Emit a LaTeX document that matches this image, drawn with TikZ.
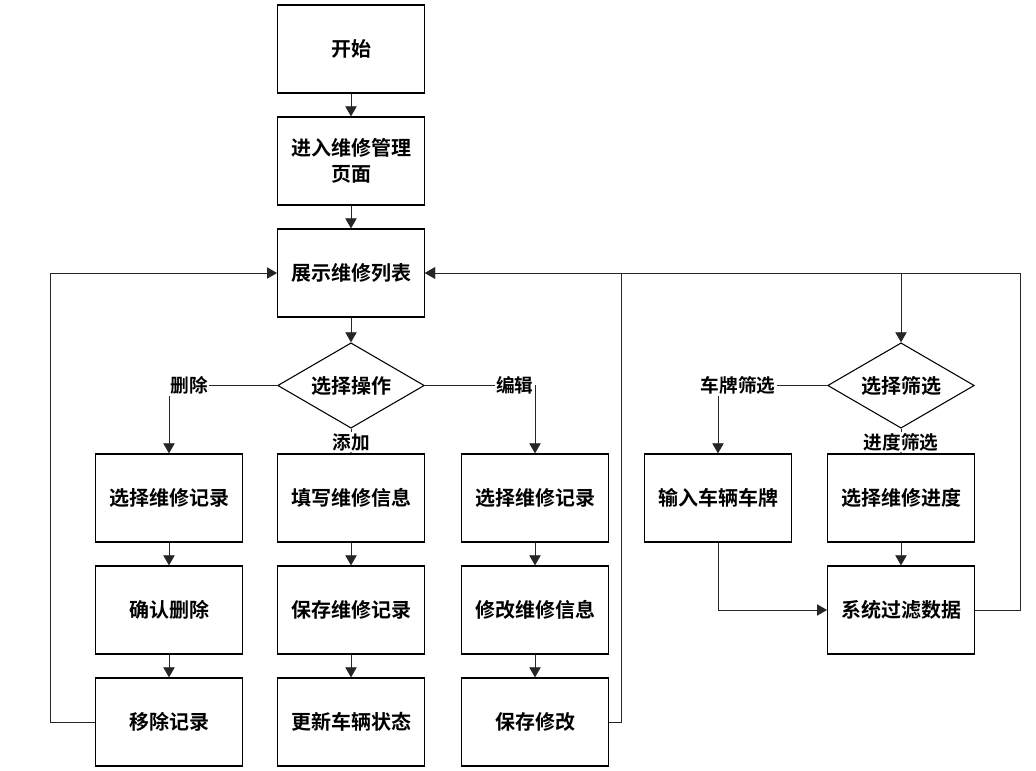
\documentclass[tikz,border=0pt]{standalone}
\usepackage{fontspec}
\setmainfont{Noto Sans CJK SC}[BoldFont={* Bold}]
\usetikzlibrary{shapes.geometric,arrows.meta}

\tikzset{
    stepbox/.style={draw, line width=1pt, minimum width=110pt, minimum height=66pt,
        inner sep=0pt, align=center, font=\bfseries\fontsize{15}{20}\selectfont},
    choice/.style={draw, diamond, line width=0.8pt, aspect=1.73, minimum width=110pt,
        minimum height=64pt, inner sep=0pt, font=\bfseries\fontsize{15}{20}\selectfont},
    flow/.style={-{Triangle[length=7.5pt,width=8.5pt]}, line width=0.6pt, black!85},
    branch/.style={fill=white, inner sep=1pt, font=\bfseries\fontsize{14}{18}\selectfont}
}

\begin{document}
\begin{tikzpicture}[x=0.75pt,y=-0.75pt]
    \useasboundingbox (0,0) rectangle (1036,771);

    % Main column
    \node[stepbox] (start) at (351,49) {开始};
    \node[stepbox] (enter) at (351,161) {进入维修管理\\页面};
    \node[stepbox] (list) at (351,273) {展示维修列表};
    \node[choice] (op) at (351,385.5) {选择操作};

    % Delete / add / edit
    \node[stepbox] (del_1) at (169,498) {选择维修记录};
    \node[stepbox] (del_2) at (169,610) {确认删除};
    \node[stepbox] (del_3) at (169,722) {移除记录};

    \node[stepbox] (add_1) at (351,498) {填写维修信息};
    \node[stepbox] (add_2) at (351,610) {保存维修记录};
    \node[stepbox] (add_3) at (351,722) {更新车辆状态};

    \node[stepbox] (edit_1) at (535,498) {选择维修记录};
    \node[stepbox] (edit_2) at (535,610) {修改维修信息};
    \node[stepbox] (edit_3) at (535,722) {保存修改};

    % Filter
    \node[choice] (sel) at (901,385.5) {选择筛选};
    \node[stepbox] (plate) at (718,498) {输入车辆车牌};
    \node[stepbox] (prog) at (901,498) {选择维修进度};
    \node[stepbox] (filter) at (901,610) {系统过滤数据};

    \draw[flow] (start) -- (enter);
    \draw[flow] (enter) -- (list);
    \draw[flow] (list) -- (op);

    \draw[flow] (op.west) -| (del_1.north) coordinate[pos=0.5] (c_del);
    \draw[flow] (op.east) -| (edit_1.north) coordinate[pos=0.5] (c_edit);
    \draw[flow] (op) -- (add_1);
    \node[branch, anchor=west] at (c_del) {删除};
    \node[branch, anchor=east] at (c_edit) {编辑};
    \node[branch] at (351,442) {添加};

    \draw[flow] (del_1) -- (del_2);
    \draw[flow] (del_2) -- (del_3);
    \draw[flow] (add_1) -- (add_2);
    \draw[flow] (add_2) -- (add_3);
    \draw[flow] (edit_1) -- (edit_2);
    \draw[flow] (edit_2) -- (edit_3);

    % Back to the list
    \draw[flow] (del_3.west) -- ++(-45,0) |- (list.west);
    \draw[flow] (edit_3.east) -- ++(12,0) |- (list.east);
    \draw[flow] (filter.east) -- ++(45,0) |- (list.east);
    \draw[flow] (list.east -| sel.north) -- (sel.north);

    \draw[flow] (sel.west) -| (plate.north) coordinate[pos=0.5] (c_plate);
    \draw[flow] (sel) -- (prog);
    \node[branch] at (738,385.5) {车牌筛选};
    \node[branch] at (901,442) {进度筛选};

    \draw[flow] (plate.south) |- (filter.west);
    \draw[flow] (prog) -- (filter);

\end{tikzpicture}
\end{document}
